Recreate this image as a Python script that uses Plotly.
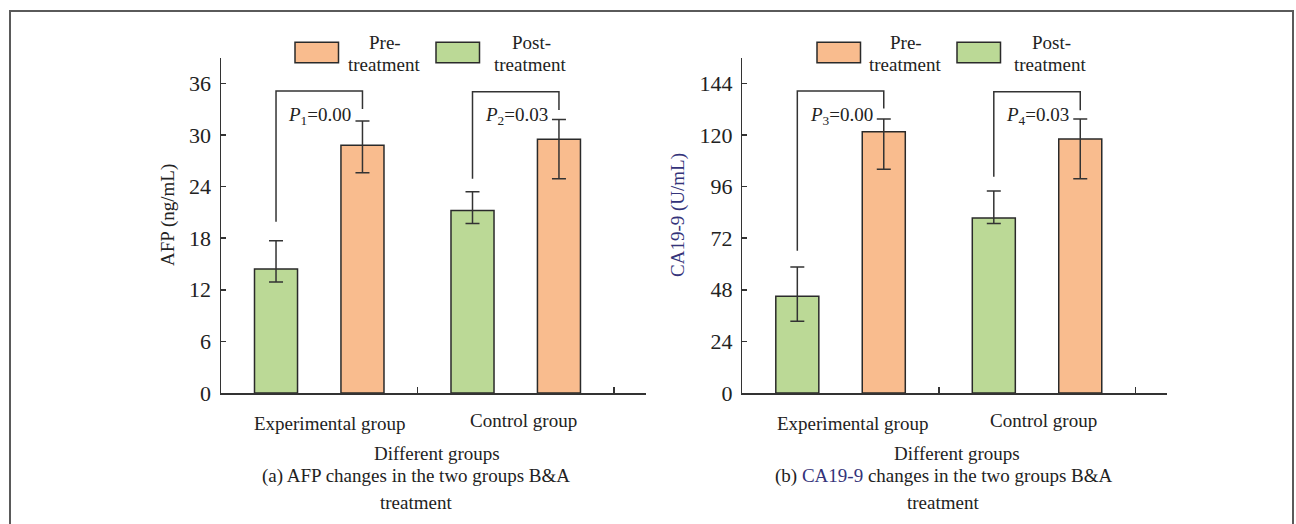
import plotly.graph_objects as go

# ---------------- data ----------------
groups = ["Experimental group", "Control group"]

afp_pre = [28.8, 29.5]
afp_pre_plus = [2.8, 2.3]
afp_pre_minus = [3.2, 4.6]
afp_post = [14.4, 21.2]
afp_post_plus = [3.3, 2.2]
afp_post_minus = [1.5, 1.5]

ca_pre = [121.5, 118.1]
ca_pre_plus = [5.9, 9.3]
ca_pre_minus = [17.5, 18.5]
ca_post = [45.0, 81.4]
ca_post_plus = [13.6, 12.5]
ca_post_minus = [11.6, 2.6]

afp_p_labels = ["<i>P</i><sub>1</sub>=0.00", "<i>P</i><sub>2</sub>=0.03"]
ca_p_labels = ["<i>P</i><sub>3</sub>=0.00", "<i>P</i><sub>4</sub>=0.03"]

# bracket levels (top, left-leg bottom, right-leg bottom)
afp_br_top = [35.1, 35.0]
afp_br_left = [19.9, 24.9]
afp_br_right = [33.0, 32.9]
ca_br_top = [140.4, 140.1]
ca_br_left = [66.1, 100.5]
ca_br_right = [132.3, 131.5]

afp_ticks = [0, 6, 12, 18, 24, 30, 36]
ca_ticks = [0, 24, 48, 72, 96, 120, 144]

legend_names = ["Pre-", "Post-"]

# ---------------- styling ----------------
W, H = 1296, 524          # reference frame
FIG_H = 537               # page height used for the figure
FONT = "Liberation Serif"
TXT = "#222222"
NAVY = "#34337a"
ORANGE = "#F9BC8E"
GREEN = "#BBD996"
EDGE = "#2a2a2a"
AX = "#333333"
OFF = 0.22
BW = 0.219

def px(x):
    return x / W

def py(y):
    return 1 - y / H

centers = [i + 0.5 for i in range(len(groups))]

fig = go.Figure()

def add_bars(xa, ya, post, pplus, pminus, pre, qplus, qminus):
    fig.add_trace(go.Bar(
        x=[c - OFF for c in centers], y=post, width=BW, xaxis=xa, yaxis=ya,
        marker=dict(color=GREEN, line=dict(color=EDGE, width=1.5)),
        error_y=dict(type="data", symmetric=False, array=pplus, arrayminus=pminus,
                     color=AX, thickness=1.5, width=7),
        showlegend=False, hoverinfo="skip"))
    fig.add_trace(go.Bar(
        x=[c + OFF for c in centers], y=pre, width=BW, xaxis=xa, yaxis=ya,
        marker=dict(color=ORANGE, line=dict(color=EDGE, width=1.5)),
        error_y=dict(type="data", symmetric=False, array=qplus, arrayminus=qminus,
                     color=AX, thickness=1.5, width=7),
        showlegend=False, hoverinfo="skip"))

add_bars("x", "y", afp_post, afp_post_plus, afp_post_minus, afp_pre, afp_pre_plus, afp_pre_minus)
add_bars("x2", "y2", ca_post, ca_post_plus, ca_post_minus, ca_pre, ca_pre_plus, ca_pre_minus)

shapes = []
annotations = []

def brackets(xr, yr, tops, lefts, rights, labels, ylab):
    for i, c in enumerate(centers):
        xl, xr_ = c - OFF, c + OFF
        shapes.append(dict(type="path", xref=xr, yref=yr,
                           path=f"M {xl} {lefts[i]} L {xl} {tops[i]} L {xr_} {tops[i]} L {xr_} {rights[i]}",
                           line=dict(color=AX, width=1.5)))
        annotations.append(dict(x=xr_, y=ylab, xref=xr, yref=yr, text=labels[i],
                                showarrow=False, xanchor="right", yanchor="middle",
                                xshift=-9, font=dict(family=FONT, size=19, color=TXT)))

brackets("x", "y", afp_br_top, afp_br_left, afp_br_right, afp_p_labels, 32.2)
brackets("x2", "y2", ca_br_top, ca_br_left, ca_br_right, ca_p_labels, 128.9)

def txt(x, y, t, color=TXT, size=19, angle=0):
    annotations.append(dict(x=px(x), y=py(y), xref="paper", yref="paper", text=t,
                            showarrow=False, xanchor="center", yanchor="middle",
                            textangle=angle, font=dict(family=FONT, size=size, color=color)))

# category labels
for xr, shifts in (("x", [10, 8]), ("x2", [12, 6])):
    for i, c in enumerate(centers):
        annotations.append(dict(x=c, y=py([423, 420][i]), xref=xr, yref="paper", text=groups[i],
                                showarrow=False, xanchor="center", yanchor="middle",
                                xshift=shifts[i], font=dict(family=FONT, size=19, color=TXT)))

# axis titles
txt(167.5, 215.5, "AFP (ng/mL)", angle=-90)
txt(677.5, 215.5, "CA19-9 (U/mL)", color=NAVY, angle=-90)
txt(437, 453, "Different groups")
txt(957, 453, "Different groups")
txt(416, 476, "(a) AFP changes in the two groups B&amp;A")
txt(416, 502, "treatment")
txt(943, 476, f"(b) <span style='color:{NAVY}'>CA19-9</span> changes in the two groups B&amp;A")
txt(943, 502, "treatment")

# custom legends
def legend(box_x0s, text_xs):
    cols = [ORANGE, GREEN]
    for k in range(2):
        shapes.append(dict(type="rect", xref="paper", yref="paper",
                           x0=px(box_x0s[k]), x1=px(box_x0s[k] + 43.5), y0=py(62.7), y1=py(42.3),
                           fillcolor=cols[k], line=dict(color=EDGE, width=1.5)))
        txt(text_xs[k], 43, legend_names[k])
        txt(text_xs[k] - 1, 65, "treatment")

legend([295, 436], [385, 531])
legend([817, 957], [906, 1051])

# outer frame (left, top, right edges; open at the bottom)
fx0, fx1, fy0, fy1 = px(10), px(1293), 0, py(11)
shapes.append(dict(type="path", xref="paper", yref="paper",
                   path=f"M {fx0} {fy0} L {fx0} {fy1} L {fx1} {fy1} L {fx1} {fy0}",
                   line=dict(color="#5a5a5a", width=2), layer="below"))

ydom = [py(393), py(58.3)]
common_y = dict(showline=True, linecolor=AX, linewidth=1.5, ticks="inside", ticklen=5,
                tickcolor=AX, tickwidth=1.5, showgrid=False, zeroline=False,
                ticklabelstandoff=4,
                tickfont=dict(family=FONT, size=22, color=TXT), domain=ydom)
common_x = dict(showline=True, linecolor=AX, linewidth=1.5, ticks="inside", ticklen=6,
                tickcolor=AX, tickwidth=1.5, showgrid=False, zeroline=False,
                tickvals=[1, 2], showticklabels=False, range=[0, 2.163])

fig.update_layout(
    width=W, height=FIG_H, margin=dict(l=0, r=0, t=0, b=0),
    paper_bgcolor="white", plot_bgcolor="white",
    showlegend=False,
    xaxis=dict(common_x, domain=[px(221), px(646)], anchor="y"),
    yaxis=dict(common_y, range=[0, 38.9], tickvals=afp_ticks, anchor="x"),
    xaxis2=dict(common_x, domain=[px(742.3), px(1167.3)], anchor="y2"),
    yaxis2=dict(common_y, range=[0, 155.6], tickvals=ca_ticks, anchor="x2"),
    shapes=shapes, annotations=annotations,
)

fig.write_html("out.html", config={"displayModeBar": False, "staticPlot": True},
               post_script="document.body.style.margin='0px';document.body.style.overflow='hidden';")
